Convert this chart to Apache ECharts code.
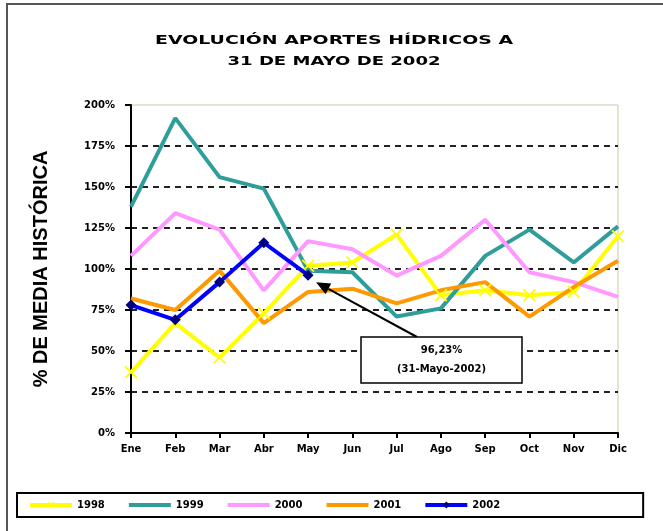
<!DOCTYPE html>
<html>
<head>
<meta charset="utf-8">
<script src="https://cdn.jsdelivr.net/npm/echarts@6/dist/echarts.min.js"></script>
<style>
  html, body { margin: 0; padding: 0; background: #fff; }
  #chart { width: 663px; height: 531px; }
</style>
</head>
<body>
<div id="chart"></div>
<script>
// datos (% de la media historica)
const months = ['Ene', 'Feb', 'Mar', 'Abr', 'May', 'Jun', 'Jul', 'Ago', 'Sep', 'Oct', 'Nov', 'Dic'];
const y1998 = [37, 67, 46, 73, 102, 104, 121, 84, 87, 84, 86, 120];
const y1999 = [138, 192, 156, 149, 99, 98, 71, 76, 108, 124, 104, 126];
const y2000 = [108, 134, 124, 87, 117, 112, 96, 108, 130, 98, 92, 83];
const y2001 = [82, 75, 99, 67, 86, 88, 79, 87, 92, 71, 89, 105];
const y2002 = [78, 69, 92, 116, 96.23];
const yTicks = [0, 25, 50, 75, 100, 125, 150, 175, 200];
const titleLines = ['EVOLUCIÓN APORTES HÍDRICOS A', '31 DE MAYO DE 2002'];

const font = 'DejaVu Sans';
const chart = echarts.init(document.getElementById('chart'));

// marca en forma de aspa para 1998
const cross = 'path://M0,1 L1,0 L5,4 L9,0 L10,1 L6,5 L10,9 L9,10 L5,6 L1,10 L0,9 L4,5 Z';

function lineSeries(name, data, color, extra) {
  return Object.assign({
    name: name,
    type: 'line',
    data: data,
    symbol: 'none',
    lineStyle: { color: color, width: 4 },
    itemStyle: { color: color },
    emphasis: { disabled: true }
  }, extra || {});
}

// la linea de 200% no se dibuja (alli va el borde del area)
const splitColors = yTicks.map(v => v === 200 ? 'rgba(0,0,0,0)' : '#222');
const noMark = { color: 'rgba(0,0,0,0)', borderColor: 'rgba(0,0,0,0)' };

chart.setOption({
  animation: false,
  grid: {
    left: 131, right: 45, top: 105, bottom: 98,
    show: true, borderColor: '#cfc7a8', borderWidth: 1, backgroundColor: '#fff'
  },
  legend: {
    data: [
      { name: '1998' },
      { name: '1999', itemStyle: noMark },
      { name: '2000', itemStyle: noMark },
      { name: '2001', itemStyle: noMark },
      { name: '2002' }
    ],
    left: 17, top: 493,
    padding: [7, 143, 7, 11],
    itemGap: 22,
    itemWidth: 42, itemHeight: 9,
    lineStyle: { width: 4 },
    borderColor: '#000', borderWidth: 2,
    textStyle: { fontFamily: font, fontWeight: 'bold', fontSize: 10, color: '#000' }
  },
  xAxis: {
    type: 'category',
    data: months,
    boundaryGap: false,
    axisLine: { lineStyle: { color: '#000', width: 2 } },
    axisTick: { show: true, alignWithLabel: true, length: 5, lineStyle: { color: '#000', width: 2 } },
    axisLabel: { fontFamily: font, fontWeight: 'bold', fontSize: 10, color: '#000', margin: 11 },
    splitLine: { show: false }
  },
  yAxis: {
    type: 'value',
    min: 0, max: 200, interval: 25,
    name: '% DE MEDIA HISTÓRICA',
    nameLocation: 'middle',
    nameRotate: 90,
    nameGap: 80,
    nameTextStyle: { fontFamily: 'Liberation Sans', fontWeight: 'bold', fontSize: 20, color: '#000' },
    axisLine: { show: true, lineStyle: { color: '#000', width: 2 } },
    axisTick: { show: true, length: 6, lineStyle: { color: '#000', width: 2 } },
    axisLabel: {
      fontFamily: font, fontWeight: 'bold', fontSize: 10, color: '#000', margin: 16,
      formatter: v => yTicks.includes(v) ? v + '%' : ''
    },
    splitLine: {
      show: true,
      lineStyle: { color: splitColors, width: 2, type: [6, 5] }
    }
  },
  series: [
    lineSeries('1998', y1998, '#ffff00', { symbol: cross, symbolSize: 13, showSymbol: true }),
    lineSeries('1999', y1999, '#2f9e9a'),
    lineSeries('2000', y2000, '#ff99ff'),
    lineSeries('2001', y2001, '#ff9900'),
    lineSeries('2002', y2002, '#0000ff', {
      symbol: 'diamond', symbolSize: 11, showSymbol: true,
      itemStyle: { color: '#000080' }, z: 5
    })
  ]
});

// titulo ensanchado como en el original
const ctx = document.createElement('canvas').getContext('2d');
const titleFont = 'bold 12px "DejaVu Sans"';
ctx.font = titleFont;
const titleWidths = [358, 213];
const titleEls = titleLines.map((t, i) => ({
  type: 'text',
  x: 334, y: 41 + i * 21,
  scaleX: titleWidths[i] / ctx.measureText(t).width,
  style: { text: t, font: titleFont, fill: '#000', align: 'center', verticalAlign: 'middle' }
}));

// marco exterior, etiqueta y flecha del ultimo dato
const last = y2002.length - 1;
const p = chart.convertToPixel({ seriesName: '2002' }, [last, y2002[last]]);
const box = { x: 361, y: 337, w: 161, h: 46 };
const from = [box.x + 56, box.y];
const tip = [p[0] + 8, p[1] + 7];
const ang = Math.atan2(tip[1] - from[1], tip[0] - from[0]);
const hl = 14, hw = 6;
const back = [tip[0] - hl * Math.cos(ang), tip[1] - hl * Math.sin(ang)];
const head = [
  tip,
  [back[0] + hw * Math.sin(ang), back[1] - hw * Math.cos(ang)],
  [back[0] - hw * Math.sin(ang), back[1] + hw * Math.cos(ang)]
];
const valText = y2002[last].toFixed(2).replace('.', ',') + '%';

chart.setOption({
  graphic: titleEls.concat([
    { type: 'rect', shape: { x: 7, y: 4, width: 720, height: 600 }, style: { fill: 'none', stroke: '#555', lineWidth: 2 }, silent: true },
    { type: 'line', shape: { x1: from[0], y1: from[1], x2: back[0], y2: back[1] }, style: { stroke: '#000', lineWidth: 2 }, z: 20 },
    { type: 'polygon', shape: { points: head }, style: { fill: '#000' }, z: 20 },
    { type: 'rect', shape: { x: box.x, y: box.y, width: box.w, height: box.h }, style: { fill: '#fff', stroke: '#000', lineWidth: 1.5 }, z: 20 },
    { type: 'text', x: box.x + box.w / 2, y: box.y + 13, style: { text: valText, fontFamily: font, fontWeight: 'bold', fontSize: 10, fill: '#000', align: 'center', verticalAlign: 'middle' }, z: 21 },
    { type: 'text', x: box.x + box.w / 2, y: box.y + 32, style: { text: '(31-Mayo-2002)', fontFamily: font, fontWeight: 'bold', fontSize: 10, fill: '#000', align: 'center', verticalAlign: 'middle' }, z: 21 }
  ])
});
</script>
</body>
</html>
